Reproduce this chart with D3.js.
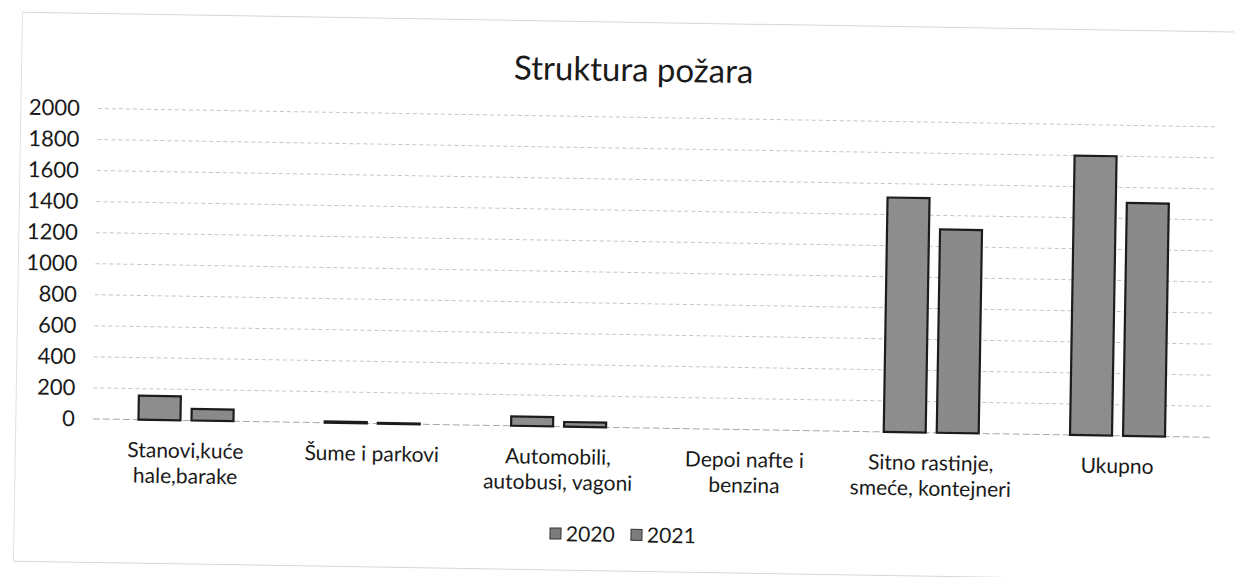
<!DOCTYPE html>
<html>
<head>
<meta charset="utf-8">
<script src="https://cdn.jsdelivr.net/npm/d3@7/dist/d3.min.js"></script>
<style>
  html, body { margin: 0; padding: 0; background: #fff; }
  svg { display: block; }
  text { font-family: Lato, "Open Sans", sans-serif; fill: #1a1a1a; }
</style>
</head>
<body>
<svg id="chart" width="1234" height="577"></svg>
<script>
// ---- data ----
const categories = ["Stanovi,kuće hale,barake", "Šume i parkovi", "Automobili, autobusi, vagoni", "Depoi nafte i benzina", "Sitno rastinje, smeće, kontejneri", "Ukupno"];
const categoryLines = [["Stanovi,kuće", "hale,barake"], ["Šume i parkovi"], ["Automobili,", "autobusi, vagoni"], ["Depoi nafte i", "benzina"], ["Sitno rastinje,", "smeće, kontejneri"], ["Ukupno"]];
const seriesNames = ["2020", "2021"];
const values2020 = [155, 8, 60, 0, 1510, 1800];
const values2021 = [75, 5, 30, 0, 1310, 1500];
const yTicks = [0, 200, 400, 600, 800, 1000, 1200, 1400, 1600, 1800, 2000];
const title = "Struktura požara";

// ---- layout ----
const svg = d3.select("#chart");
const g = svg.append("g").attr("transform", "rotate(0.94 617 290)");

const x0 = d3.scaleBand().domain(categories).range([95, 1213]).padding(0);
const groupW = 95;
const x1 = d3.scaleBand().domain(seriesNames)
  .range([(x0.bandwidth() - groupW) / 2, (x0.bandwidth() + groupW) / 2])
  .paddingInner(0.208).paddingOuter(0);
const y = d3.scaleLinear().domain([0, 2000]).range([427.5, 117]);

const colors = { "2020": "#8d8d8d", "2021": "#8a8a8a" };

// faint scan frame
g.append("line").attr("x1", 18).attr("x2", 1240).attr("y1", 22).attr("y2", 22)
  .attr("stroke", "#d6d6d6").attr("stroke-width", 1);
g.append("line").attr("x1", 18).attr("x2", 18).attr("y1", 22).attr("y2", 571)
  .attr("stroke", "#e0e0e0").attr("stroke-width", 1);
g.append("line").attr("x1", 18).attr("x2", 1240).attr("y1", 571).attr("y2", 571)
  .attr("stroke", "#d6d6d6").attr("stroke-width", 1);

// title
g.append("text").attr("x", 630).attr("y", 81).attr("text-anchor", "middle")
  .attr("font-size", 33).text(title);

// gridlines
g.append("g").selectAll("line").data(yTicks).join("line")
  .attr("x1", 95).attr("x2", 1213)
  .attr("y1", d => y(d)).attr("y2", d => y(d))
  .attr("stroke", d => d === 0 ? "#a8a8a8" : "#c6c6c6")
  .attr("stroke-width", 1)
  .attr("stroke-dasharray", d => d === 0 ? "7 3" : "4 3");

// y axis labels via d3 axis
const yAxis = d3.axisLeft(y).tickValues(yTicks).tickSize(0).tickPadding(0).tickFormat(d3.format("d"));
const ya = g.append("g").attr("transform", "translate(77,0)").call(yAxis);
ya.select(".domain").remove();
ya.selectAll("text").attr("font-size", 22).attr("fill", "#1a1a1a")
  .style("font-family", "Lato, sans-serif");

// bars
const data = categories.map((c, i) => ({ cat: c, vals: [
  { s: "2020", v: values2020[i] }, { s: "2021", v: values2021[i] }] }));
const groups = g.append("g").selectAll("g").data(data).join("g")
  .attr("transform", d => `translate(${x0(d.cat)},0)`);
groups.selectAll("rect").data(d => d.vals).join("rect")
  .attr("x", d => x1(d.s))
  .attr("width", x1.bandwidth())
  .attr("y", d => y(d.v))
  .attr("height", d => y(0) - y(d.v))
  .attr("fill", d => colors[d.s])
  .attr("stroke", "#1c1c1c")
  .attr("stroke-width", 2.2);

// category labels (separate text per line)
const xl = g.append("g");
categories.forEach((c, i) => {
  categoryLines[i].forEach((ln, j) => {
    xl.append("text").attr("text-anchor", "middle").attr("font-size", 21)
      .attr("x", x0(c) + x0.bandwidth() / 2).attr("y", 465 + j * 25.5).text(ln);
  });
});

// legend
const legend = g.append("g");
const legX = [554, 635];
seriesNames.forEach((s, i) => {
  legend.append("rect").attr("x", legX[i]).attr("y", 529).attr("width", 11).attr("height", 11)
    .attr("fill", "#7c7c7c").attr("stroke", "#333").attr("stroke-width", 1);
  legend.append("text").attr("x", legX[i] + 16).attr("y", 542).attr("font-size", 21).text(s);
});
</script>
</body>
</html>
